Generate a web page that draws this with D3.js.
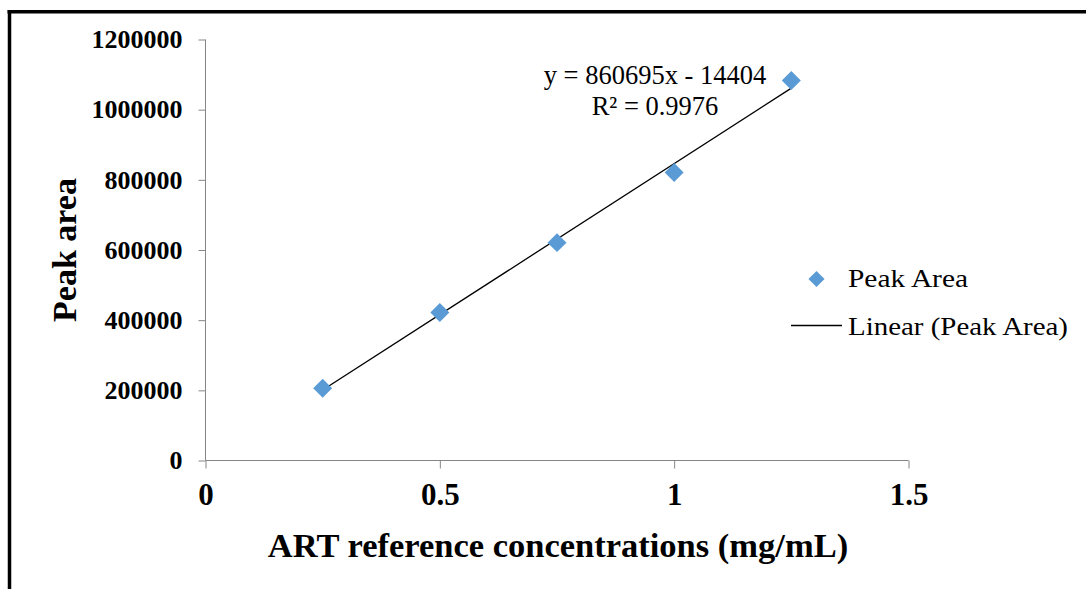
<!DOCTYPE html>
<html>
<head>
<meta charset="utf-8">
<script src="https://cdn.jsdelivr.net/npm/d3@7"></script>
<style>
  html, body { margin: 0; padding: 0; background: #fff; }
  svg { display: block; }
</style>
</head>
<body>
<svg id="chart" width="1086" height="589"></svg>
<script>
// Calibration data: ART reference concentrations vs. chromatographic peak area
const concentrations = [0.25, 0.5, 0.75, 1.0, 1.25];
const peakAreas = [206000, 422000, 621000, 821000, 1083000];

// Linear trendline as reported
const slope = 860695;
const intercept = -14404;
const rSquared = 0.9976;

const xTicks = [0, 0.5, 1, 1.5];
const yTicks = [0, 200000, 400000, 600000, 800000, 1000000, 1200000];

const svg = d3.select("#chart");
const W = 1086, H = 589;

// Outer frame (top and left edges)
svg.append("line").attr("x1", 7.5).attr("x2", W).attr("y1", 11.75).attr("y2", 11.75)
  .attr("stroke", "#000").attr("stroke-width", 3.5);
svg.append("line").attr("x1", 9.5).attr("x2", 9.5).attr("y1", 10).attr("y2", H)
  .attr("stroke", "#000").attr("stroke-width", 3.5);

const x = d3.scaleLinear().domain([0, 1.5]).range([205.5, 908.5]);
const y = d3.scaleLinear().domain([0, 1200000]).range([460.5, 39.5]);

const axisColor = "#868686";
const serif = "'Liberation Serif', 'Times New Roman', serif";

// Y axis
const gy = svg.append("g").attr("transform", `translate(${x(0)},0)`)
  .call(d3.axisLeft(y).tickValues(yTicks).tickFormat(d3.format("d")).tickSize(7).tickPadding(16));
gy.select(".domain").attr("stroke", axisColor).attr("d", `M0,${y(1200000)}V${y(0)}`);
gy.selectAll(".tick line").attr("stroke", axisColor);
gy.selectAll(".tick text").attr("font-family", serif).attr("font-weight", "bold")
  .attr("font-size", 26).attr("fill", "#000");

// X axis
const gx = svg.append("g").attr("transform", `translate(0,${y(0)})`)
  .call(d3.axisBottom(x).tickValues(xTicks).tickFormat(d => String(d)).tickSize(8).tickPadding(14));
gx.select(".domain").attr("stroke", axisColor).attr("d", `M${x(0)},0H${x(1.5)}`);
gx.selectAll(".tick line").attr("stroke", axisColor);
gx.selectAll(".tick text").attr("font-family", serif).attr("font-weight", "bold")
  .attr("font-size", 31).attr("fill", "#000");

// Axis titles
svg.append("text").attr("x", 558).attr("y", 557).attr("text-anchor", "middle")
  .attr("font-family", serif).attr("font-weight", "bold").attr("font-size", 34.5)
  .text("ART reference concentrations (mg/mL)");
svg.append("text").attr("transform", "translate(76,250) rotate(-90)").attr("text-anchor", "middle")
  .attr("font-family", serif).attr("font-weight", "bold").attr("font-size", 34)
  .text("Peak area");

// Trendline over the data range
const xMin = d3.min(concentrations), xMax = d3.max(concentrations);
const trend = [xMin, xMax].map(c => [c, slope * c + intercept]);
svg.append("path")
  .attr("d", d3.line().x(d => x(d[0])).y(d => y(d[1]))(trend))
  .attr("stroke", "#000").attr("stroke-width", 1.3).attr("fill", "none");

// Data markers (diamonds)
const diamond = d3.symbol().type(d3.symbolSquare).size(180);
svg.append("g").selectAll("path").data(concentrations.map((c, i) => [c, peakAreas[i]]))
  .join("path")
  .attr("d", diamond)
  .attr("transform", d => `translate(${x(d[0])},${y(d[1])}) rotate(45)`)
  .attr("fill", "#5B9BD5");

// Trendline equation
const eq = svg.append("text").attr("font-family", serif).attr("font-size", 26.5)
  .attr("text-anchor", "middle").attr("fill", "#000");
eq.append("tspan").attr("x", 655).attr("y", 84)
  .text(`y = ${slope}x - ${Math.abs(intercept)}`);
eq.append("tspan").attr("x", 655).attr("y", 115)
  .text(`R² = ${rSquared}`);

// Legend
const legend = svg.append("g");
legend.append("path").attr("d", d3.symbol().type(d3.symbolSquare).size(130))
  .attr("transform", "translate(816.5,279) rotate(45)").attr("fill", "#5B9BD5");
legend.append("text").attr("x", 848).attr("y", 287).attr("font-family", serif)
  .attr("font-size", 26).attr("textLength", 120).attr("lengthAdjust", "spacingAndGlyphs")
  .text("Peak Area");
legend.append("line").attr("x1", 791).attr("x2", 842).attr("y1", 325.5).attr("y2", 325.5)
  .attr("stroke", "#000").attr("stroke-width", 1.3);
legend.append("text").attr("x", 848).attr("y", 335).attr("font-family", serif)
  .attr("font-size", 26).attr("textLength", 220).attr("lengthAdjust", "spacingAndGlyphs")
  .text("Linear (Peak Area)");
</script>
</body>
</html>
